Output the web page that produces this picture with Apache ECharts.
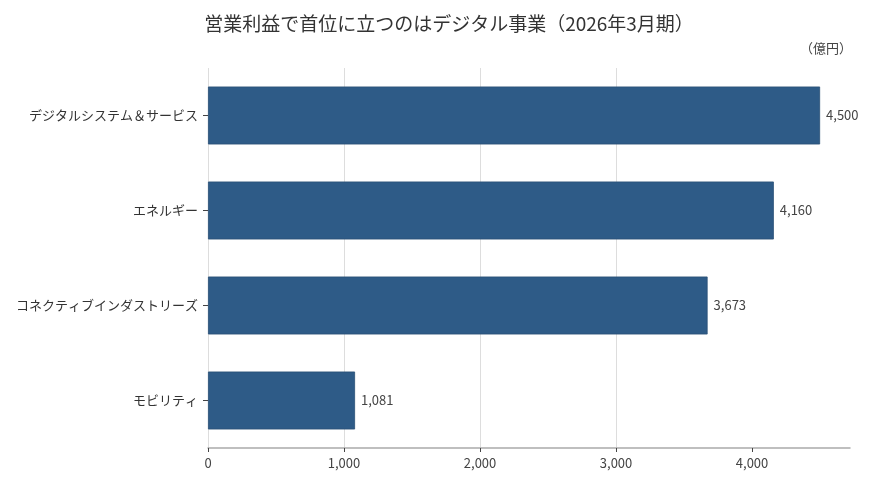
<!DOCTYPE html>
<html><head><meta charset="utf-8">
<script src="https://cdn.jsdelivr.net/npm/echarts@6/dist/echarts.min.js"></script>
<style>html,body{margin:0;padding:0;background:#fff}#c{width:870px;height:483px}</style>
</head><body><div id="c"></div>
<script>
const categories = ['デジタルシステム＆サービス', 'エネルギー', 'コネクティブインダストリーズ', 'モビリティ'];
const values = [4500, 4160, 3673, 1081];
const tickValues = [0, 1000, 2000, 3000, 4000];
const titleText = '営業利益で首位に立つのはデジタル事業（2026年3月期）';
const unitText = '（億円）';

const font = '"Noto Sans CJK JP", "Noto Sans", sans-serif';
const chart = echarts.init(document.getElementById('c'));
chart.setOption({
  backgroundColor: '#fff',
  animation: false,
  title: [
    { text: titleText, left: 444, top: 9, textAlign: 'center',
      textStyle: { fontFamily: font, fontSize: 19, fontWeight: 'normal', color: '#333' } },
    { text: unitText, right: 13, top: 37,
      textStyle: { fontFamily: font, fontSize: 13, fontWeight: 'normal', color: '#444' } }
  ],
  grid: { left: 208, right: 20, top: 68, bottom: 35, containLabel: false },
  xAxis: {
    type: 'value', min: 0, max: 4720, interval: 1000,
    axisLine: { show: true, lineStyle: { color: '#aaa', width: 1.5 } },
    axisTick: { show: true, length: 4, lineStyle: { color: '#444' }, customValues: tickValues },
    axisLabel: { customValues: tickValues, fontFamily: font, fontSize: 13, color: '#444', margin: 9,
      formatter: v => v.toLocaleString('en-US') },
    splitLine: { show: true, showMaxLine: false, lineStyle: { color: '#ddd', width: 1 } }
  },
  yAxis: {
    type: 'category', data: categories, inverse: true,
    axisLine: { show: false },
    axisTick: { show: true, alignWithLabel: true, length: 5, lineStyle: { color: '#444' } },
    axisLabel: { fontFamily: font, fontSize: 13, color: '#333', margin: 10 }
  },
  series: [{
    type: 'bar', data: values, barWidth: '61%',
    itemStyle: { color: '#2e5b87', borderColor: '#284f75', borderWidth: 0.8 },
    label: { show: true, position: 'right', distance: 6, fontFamily: font, fontSize: 13, color: '#444',
      formatter: p => p.value.toLocaleString('en-US') }
  }]
});
</script></body></html>
